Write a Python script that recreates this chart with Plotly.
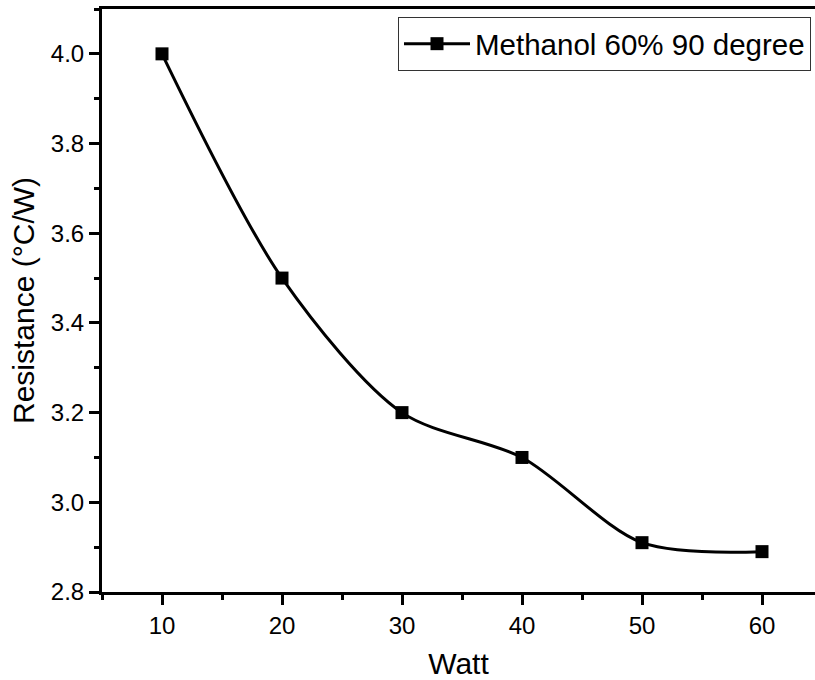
import plotly.graph_objects as go

watt = [10, 20, 30, 40, 50, 60]
resistance = [4.0, 3.5, 3.2, 3.1, 2.91, 2.89]
series_name = "Methanol 60% 90 degree"

W, H = 815, 680
L, R, T, B = 102, 0, 9, 88

fig = go.Figure()
fig.add_trace(go.Scatter(
    x=watt, y=resistance, name=series_name,
    mode="lines+markers",
    line=dict(color="black", width=3, shape="spline", smoothing=0.85),
    marker=dict(symbol="square", size=13, color="black"),
    showlegend=True,
))

font = "Arial, 'Liberation Sans', sans-serif"
axis_common = dict(
    showgrid=False, zeroline=False,
    showline=True, linecolor="black", linewidth=3,
    ticks="outside", ticklen=10, tickwidth=2.5, tickcolor="black",
    tickfont=dict(family=font, size=24, color="black"),
)

fig.update_layout(
    width=W, height=H,
    margin=dict(l=L, r=R, t=T, b=B),
    paper_bgcolor="white", plot_bgcolor="white",
    font=dict(family=font, color="black"),
    xaxis=dict(
        range=[5, 5 + (W - L - R) / 12.0],
        tick0=10, dtick=10,
        minor=dict(dtick=5, tick0=5, ticks="outside", ticklen=5, tickwidth=2.5, tickcolor="black"),
        mirror=True,
        title=dict(text="Watt", font=dict(family=font, size=30), standoff=16),
        **axis_common,
    ),
    yaxis=dict(
        range=[2.8, 4.1],
        tick0=2.8, dtick=0.2, tickformat=".1f",
        minor=dict(dtick=0.1, tick0=2.8, ticks="outside", ticklen=5, tickwidth=2.5, tickcolor="black"),
        mirror=False,
        title=dict(text="Resistance (°C/W)", font=dict(family=font, size=30), standoff=8),
        **axis_common,
    ),
    legend=dict(
        x=(398 - L) / (W - L - R), y=(592 - 17) / (592 - T),
        xanchor="left", yanchor="top",
        bordercolor="#333", borderwidth=1, bgcolor="white",
        font=dict(family=font, size=29.5, color="black"),
        itemwidth=66,
        tracegroupgap=0,
    ),
)

fig.write_html("out.html")
